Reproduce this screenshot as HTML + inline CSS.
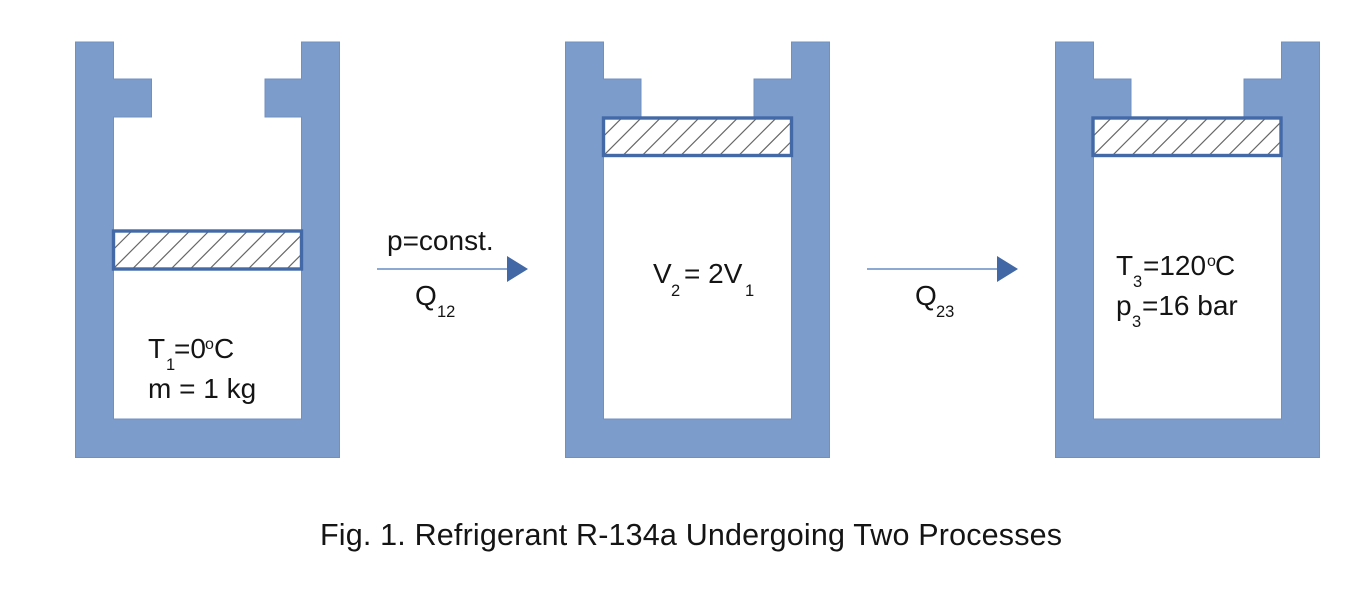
<!DOCTYPE html>
<html>
<head>
<meta charset="utf-8">
<style>
html,body{margin:0;padding:0;background:#fff;}
svg{display:block;}
text{font-family:"Liberation Sans",sans-serif;fill:#141414;font-size:28px;}
.s{font-size:16.5px;}
.o{font-size:16px;}
.cy{fill:#7c9dcb;stroke:#6f91c2;stroke-width:1;}
.pw{fill:#fff;stroke:none;}
.pi{fill:none;stroke:#4369a6;stroke-width:3.4;}
.h{stroke:#666;stroke-width:1.2;fill:none;}
.l{stroke:#7c9dcb;stroke-width:1.8;}
.a{fill:#4268a5;}
</style>
</head>
<body>
<svg width="1367" height="594" viewBox="0 0 1367 594" xmlns="http://www.w3.org/2000/svg">
<defs>
<clipPath id="c"><rect x="0" y="0" width="188" height="38"/></clipPath>
<g id="hatch" clip-path="url(#c)">
<path class="h" d="M-39 38L-1 0M-19.700 38L18.300 0M-0.400 38L37.600 0M18.900 38L56.900 0M38.200 38L76.200 0M57.500 38L95.500 0M76.800 38L114.800 0M96.100 38L134.100 0M115.400 38L153.400 0M134.700 38L172.700 0M154 38L192 0M173.300 38L211.300 0"/>
</g>
</defs>

<path class="cy" d="M75.500 42H113.500V79H151.500V117H113.500V419H301.500V117H265V79H301.500V42H339.500V457.500H75.500Z"/>
<path class="cy" d="M565.500 42H603.500V79H641V117H603.500V419H791.500V117H754V79H791.500V42H829.500V457.500H565.500Z"/>
<path class="cy" d="M1055.500 42H1093.500V79H1131V117H1093.500V419H1281.500V117H1244V79H1281.500V42H1319.500V457.500H1055.500Z"/>

<rect class="pw" x="113.500" y="231" width="188" height="38"/>
<use href="#hatch" x="113.500" y="231"/>
<rect class="pi" x="113.500" y="231" width="188" height="38"/>
<rect class="pw" x="603.500" y="118" width="188" height="37.500"/>
<use href="#hatch" x="603.500" y="118"/>
<rect class="pi" x="603.500" y="118" width="188" height="37.500"/>
<rect class="pw" x="1093" y="118" width="188" height="37.500"/>
<use href="#hatch" x="1093" y="118"/>
<rect class="pi" x="1093" y="118" width="188" height="37.500"/>

<line class="l" x1="377" y1="269" x2="508" y2="269"/>
<polygon class="a" points="507,256 528,269 507,282"/>
<line class="l" x1="867" y1="269" x2="998" y2="269"/>
<polygon class="a" points="997,256 1018,269 997,282"/>

<text x="387" y="250">p=const.</text>
<text x="415" y="305">Q</text><text class="s" x="437" y="317">12</text>

<text x="148" y="358">T</text><text class="s" x="166" y="370">1</text>
<text x="174" y="358">=0</text><text class="o" x="205" y="349">o</text><text x="214" y="358">C</text>
<text x="148" y="398">m = 1 kg</text>

<text x="653" y="283">V</text><text class="s" x="671" y="296">2</text>
<text x="684" y="283">= 2V</text><text class="s" x="745" y="296">1</text>

<text x="915" y="305">Q</text><text class="s" x="936" y="317">23</text>

<text x="1116" y="275">T</text><text class="s" x="1133" y="287">3</text>
<text x="1143" y="275">=120</text><text class="o" x="1207" y="266">o</text><text x="1215" y="275">C</text>
<text x="1116" y="315">p</text><text class="s" x="1132" y="327">3</text>
<text x="1142" y="315">=16 bar</text>

<text x="320" y="545" style="font-size:30.500px" textLength="742" lengthAdjust="spacing">Fig. 1. Refrigerant R-134a Undergoing Two Processes</text>
</svg>
</body>
</html>
